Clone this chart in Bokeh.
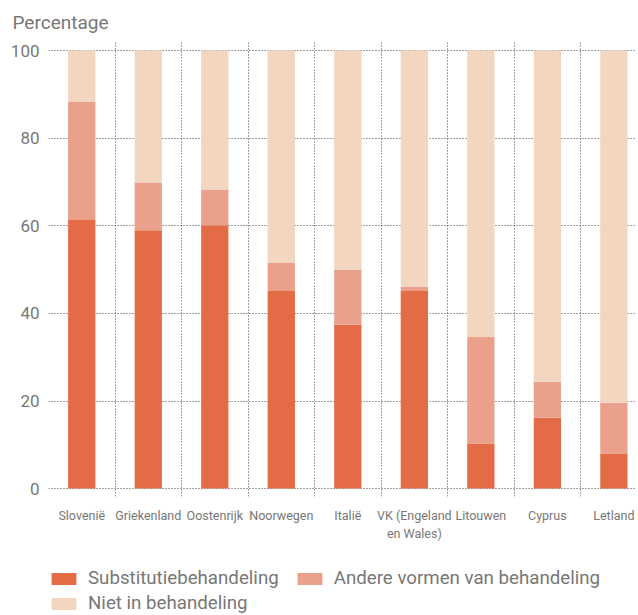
from bokeh.plotting import figure
from bokeh.models import ColumnDataSource, FixedTicker, Legend, LegendItem, Range1d
from bokeh.layouts import column
from bokeh.embed import file_html
from bokeh.resources import INLINE

countries = ["Slovenië", "Griekenland", "Oostenrijk", "Noorwegen", "Italië",
             "VK (Engeland\nen Wales)", "Litouwen", "Cyprus", "Letland"]
substitutie = [61.3, 59.0, 60.1, 45.1, 37.4, 45.1, 10.3, 16.2, 8.0]
andere = [27.1, 10.9, 8.2, 6.4, 12.5, 0.9, 24.3, 8.2, 11.6]
niet = [round(100 - s - a, 1) for s, a in zip(substitutie, andere)]
series_names = ["Substitutiebehandeling", "Andere vormen van behandeling", "Niet in behandeling"]
colors = ["#E36C47", "#EAA08A", "#F2D6C0"]
y_ticks = [0, 20, 40, 60, 80, 100]

FONT = "Roboto"
GRAY = "#777777"

xs = [i + 0.5 for i in range(len(countries))]
source = ColumnDataSource(data=dict(x=xs, sub=substitutie, andere=andere, niet=niet))

p = figure(width=636, height=543, output_backend="svg", toolbar_location=None,
           x_range=Range1d(0, 8.84), y_range=Range1d(-1.8, 102.3),
           min_border_left=48, min_border_right=0, min_border_top=40, min_border_bottom=46)

renderers = p.vbar_stack(["sub", "andere", "niet"], x="x", width=0.41, source=source,
                         color=colors, line_color=None)

p.title.text = "Percentage"
p.title.text_font = FONT
p.title.text_font_size = "19px"
p.title.text_font_style = "normal"
p.title.text_color = GRAY
p.title.offset = -36
p.title.standoff = 14

p.outline_line_color = None
p.background_fill_color = "white"

# y axis
p.yaxis.ticker = FixedTicker(ticks=y_ticks)
p.yaxis.axis_line_color = None
p.yaxis.major_tick_line_color = None
p.yaxis.minor_tick_line_color = None
p.yaxis.major_label_text_font = FONT
p.yaxis.major_label_text_font_size = "17px"
p.yaxis.major_label_text_color = GRAY
p.yaxis.major_label_standoff = 3

# x axis
p.xaxis.ticker = FixedTicker(ticks=xs)
p.xaxis.major_label_overrides = {x: c for x, c in zip(xs, countries)}
p.xaxis.axis_line_color = None
p.xaxis.major_tick_line_color = None
p.xaxis.minor_tick_line_color = None
p.xaxis.major_label_text_font = FONT
p.xaxis.major_label_text_font_size = "12.5px"
p.xaxis.major_label_text_color = GRAY
p.xaxis.major_label_standoff = 5

# grids
p.ygrid.ticker = FixedTicker(ticks=y_ticks)
p.ygrid.grid_line_color = "#444444"
p.ygrid.grid_line_dash = "1 2"
p.ygrid.grid_line_width = 1
p.xgrid.ticker = FixedTicker(ticks=list(range(len(countries))))
p.xgrid.grid_line_color = "#444444"
p.xgrid.grid_line_dash = "1 2"
p.xgrid.grid_line_width = 1

# legend figure (swatches only; its dummy glyphs have zero size)
pl = figure(width=636, height=71, output_backend="svg", toolbar_location=None,
            x_range=Range1d(0, 1), y_range=Range1d(0, 1),
            min_border_left=48, min_border_right=0, min_border_top=0, min_border_bottom=0)
pl.axis.visible = False
pl.grid.visible = False
pl.outline_line_color = None
dummy = ColumnDataSource(data=dict(x=[0.5], top=[0.0]))
leg_renderers = [pl.vbar(x="x", top="top", bottom=0.0, width=0.0, source=dummy,
                         color=c, line_color=None)
                 for c in colors]

legend_style = dict(orientation="horizontal", glyph_width=31, glyph_height=15,
                    label_text_font=FONT, label_text_font_size="18.7px",
                    label_text_color=GRAY, border_line_color=None, background_fill_alpha=0,
                    spacing=15, padding=0, margin=0, label_standoff=9, label_height=18)
legend1 = Legend(items=[LegendItem(label=n, renderers=[r])
                        for n, r in zip(series_names[:2], leg_renderers[:2])],
                 location=(0, 25), **legend_style)
legend2 = Legend(items=[LegendItem(label=series_names[2], renderers=[leg_renderers[2]])],
                 location=(0, 0), **legend_style)
pl.add_layout(legend1, "center")
pl.add_layout(legend2, "center")

layout = column(p, pl, spacing=0)
open("out.html", "w").write(file_html(layout, INLINE))
